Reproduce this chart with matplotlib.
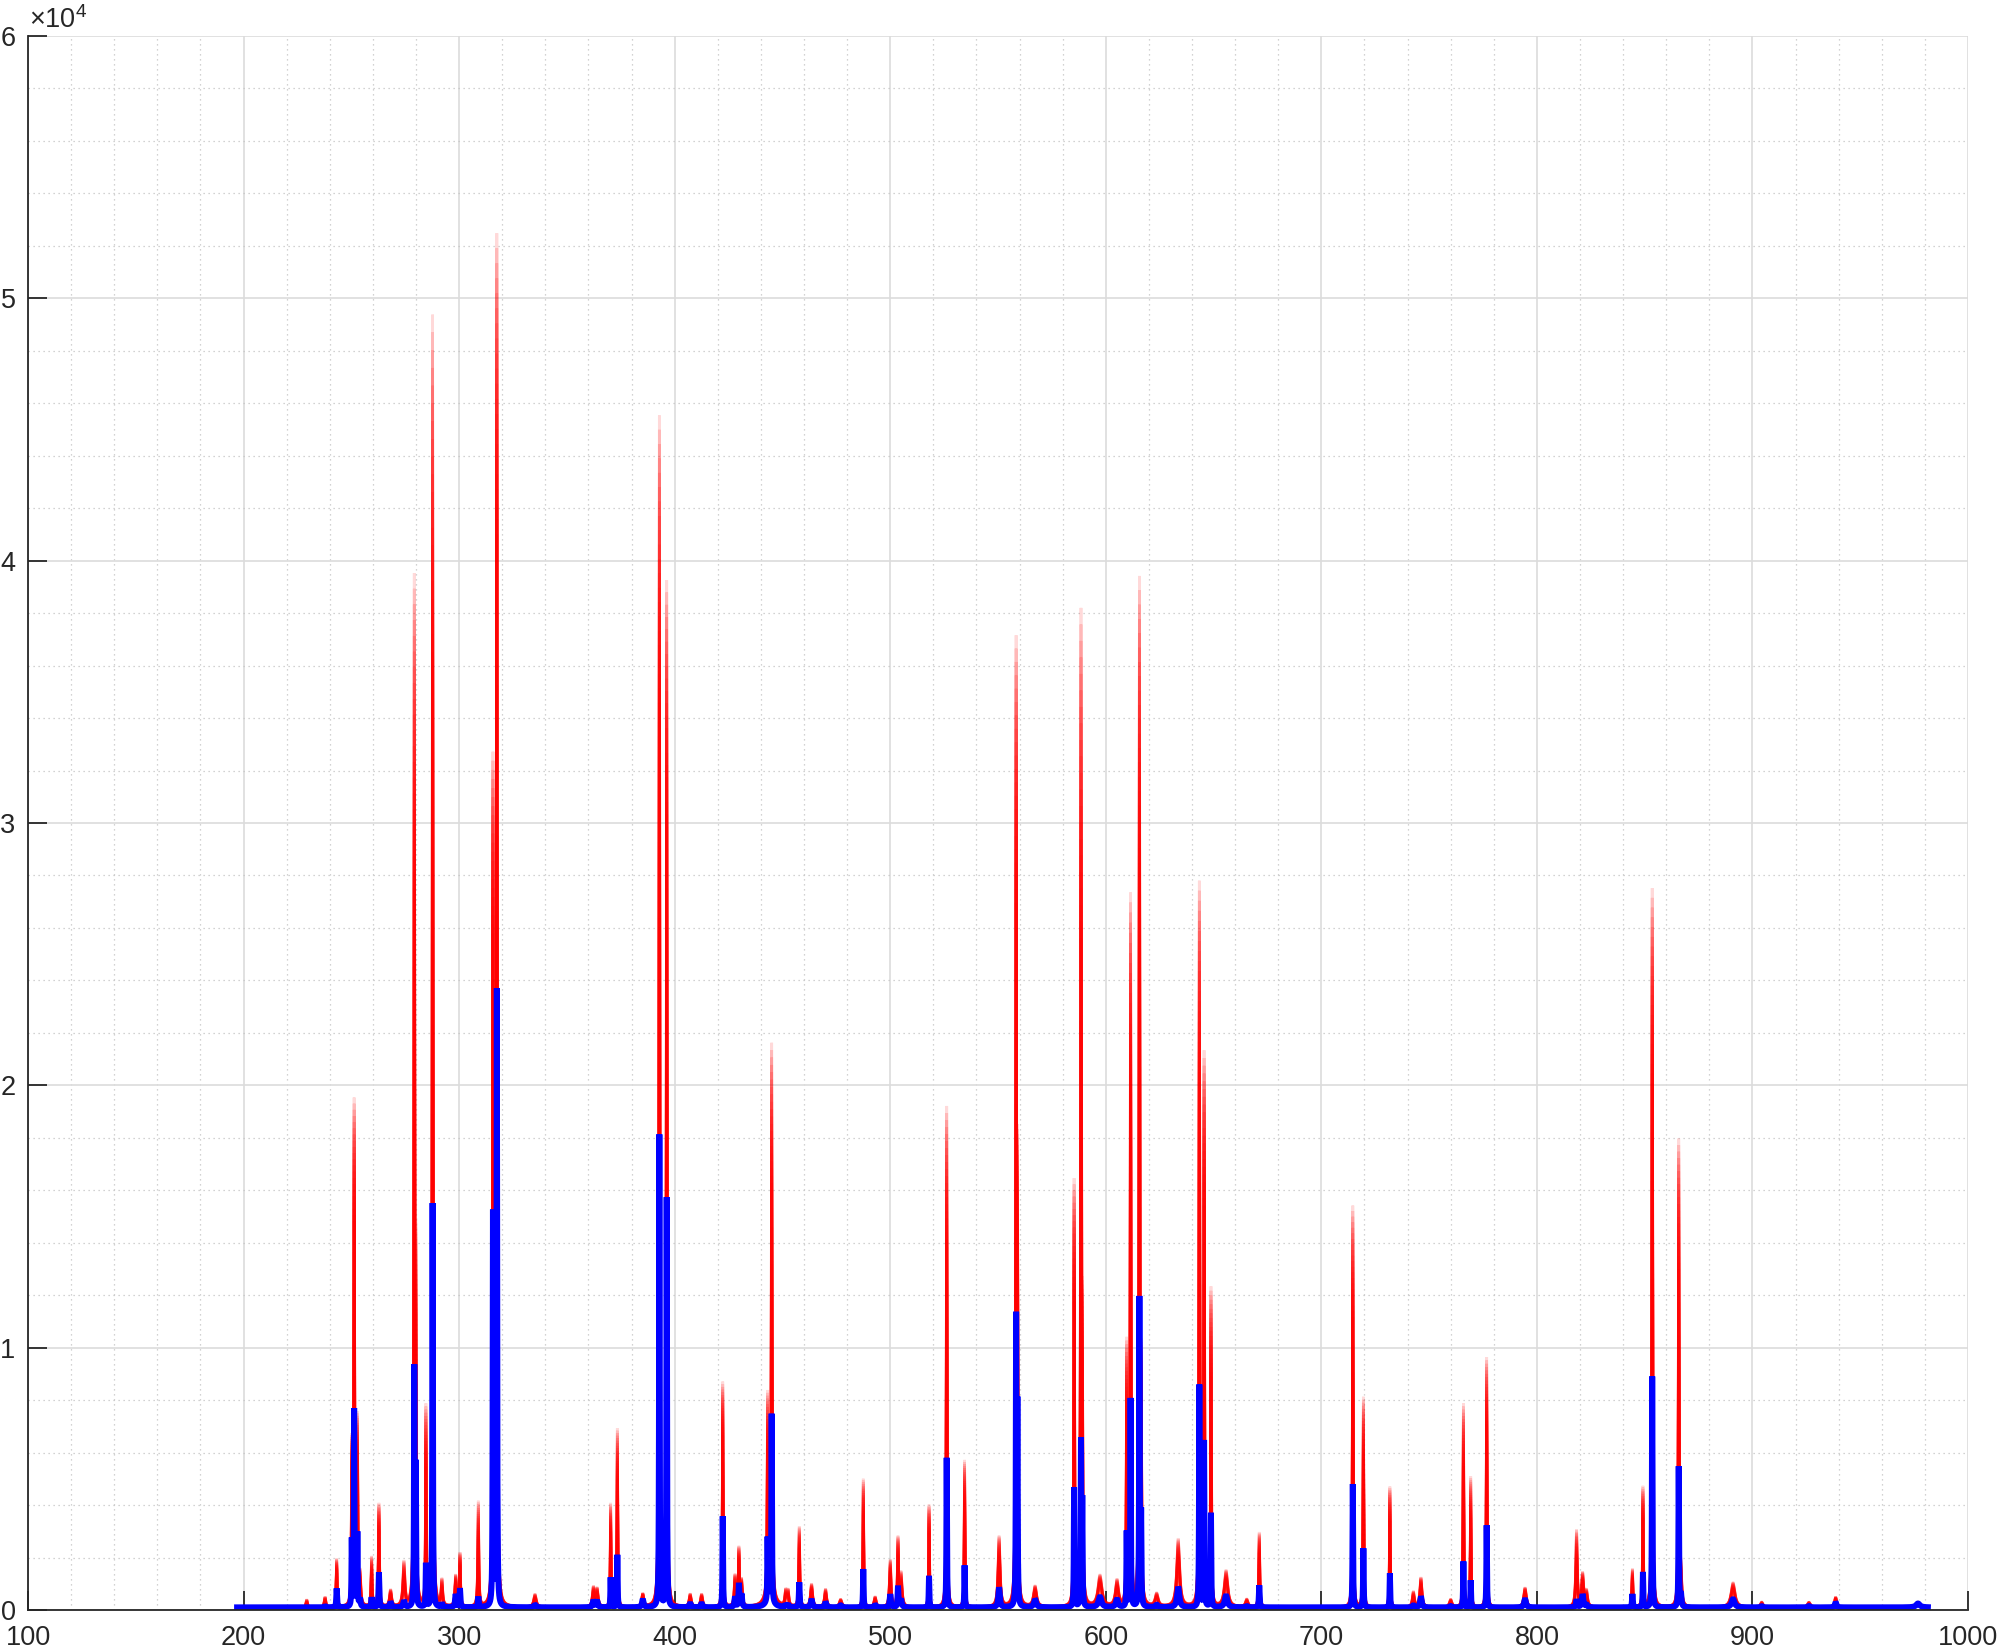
import numpy as np
import matplotlib
matplotlib.use('Agg')
import matplotlib.pyplot as plt
from matplotlib.ticker import MultipleLocator, FuncFormatter

plt.rcParams['font.family'] = ['Liberation Sans', 'DejaVu Sans']
plt.rcParams['mathtext.fontset'] = 'custom'
plt.rcParams['mathtext.rm'] = 'Liberation Sans'

# peak table: centre (nm), blue height, red max height, half width (nm)
peak_nm = [229.3, 237.8, 243.2, 250.2, 251.3, 252.8, 254.0, 259.4, 262.8, 268.2,
           274.4, 279.2, 279.9, 284.6, 287.7, 292.0, 298.4, 300.4, 308.9, 315.7,
           317.5, 335.2, 362.3, 364.0, 370.3, 373.4, 385.2, 392.9, 396.3, 407.2,
           412.5, 422.3, 428.0, 429.8, 431.0, 443.1, 445.0, 444.0, 451.5, 452.6,
           457.8, 463.5, 470.0, 477.0, 487.5, 493.0, 500.0, 503.6, 505.0, 518.0,
           526.2, 534.5, 550.5, 558.4, 559.0, 567.2, 585.3, 588.5, 589.1, 597.3,
           605.2, 609.7, 611.5, 615.6, 616.4, 623.6, 633.6, 643.4, 645.6, 648.8,
           655.8, 665.4, 671.2, 714.6, 719.5, 731.8, 742.7, 746.2, 760.0, 765.9,
           769.3, 776.7, 794.5, 818.4, 821.2, 823.0, 844.3, 849.2, 853.5, 865.8,
           866.8, 891.0, 904.3, 926.2, 938.6, 976.8]
blue_h = [0, 50, 720, 2520, 7520, 2800, 300, 380, 1330, 200,
          250, 9030, 5220, 1650, 15400, 150, 500, 720, 400, 15000,
          23500, 100, 250, 250, 1140, 2000, 300, 18000, 15600, 150,
          150, 3470, 400, 890, 500, 2360, 7090, 400, 100, 100,
          950, 300, 200, 80, 1460, 100, 500, 800, 300, 1200,
          5700, 1600, 760, 10830, 7400, 300, 4550, 6230, 3900, 400,
          300, 2860, 7940, 11740, 3400, 100, 780, 8460, 6330, 3580,
          450, 50, 840, 4700, 2250, 1300, 80, 420, 50, 1750,
          1030, 3130, 320, 300, 500, 100, 510, 1340, 8800, 5340,
          500, 320, 50, 50, 200, 150]
red_h = [300, 400, 1840, 6000, 19100, 7000, 1200, 1900, 3940, 650,
         1700, 38500, 12000, 7500, 49200, 1000, 1200, 2030, 4000, 32000,
         52000, 500, 760, 700, 3940, 6800, 500, 45300, 39000, 500,
         500, 8580, 1200, 2170, 1000, 7400, 20800, 800, 600, 600,
         3050, 890, 700, 300, 4890, 400, 1800, 2550, 1300, 3900,
         19100, 5600, 2700, 35600, 15000, 800, 16180, 37150, 9000, 1200,
         1000, 9900, 27000, 38770, 8000, 500, 2600, 27490, 20950, 12090,
         1400, 300, 2860, 15300, 8000, 4600, 600, 1140, 300, 7750,
         4960, 9530, 760, 2930, 1270, 600, 1460, 4570, 27400, 17700,
         1200, 950, 200, 200, 400, 200]
width_nm = [0.3, 0.3, 0.2, 0.15, 0.15, 0.15, 0.3, 0.2, 0.2, 0.4,
            0.4, 0.15, 0.15, 0.15, 0.15, 0.3, 0.3, 0.2, 0.2, 0.15,
            0.15, 0.5, 0.4, 0.4, 0.15, 0.15, 0.4, 0.15, 0.15, 0.4,
            0.4, 0.15, 0.3, 0.2, 0.3, 0.15, 0.15, 1.5, 0.3, 0.3,
            0.2, 0.4, 0.4, 0.5, 0.15, 0.4, 0.3, 0.2, 0.4, 0.15,
            0.15, 0.15, 0.4, 0.15, 0.15, 0.6, 0.15, 0.15, 0.15, 0.8,
            0.6, 0.15, 0.15, 0.15, 0.15, 0.6, 0.6, 0.15, 0.15, 0.15,
            0.7, 0.5, 0.2, 0.15, 0.15, 0.15, 0.4, 0.4, 0.5, 0.15,
            0.15, 0.15, 0.5, 0.3, 0.4, 0.4, 0.2, 0.15, 0.15, 0.15,
            0.3, 0.8, 0.5, 0.6, 0.4, 1.0]

wl_start, wl_end, wl_step = 197.0, 981.5, 0.1
baseline = 100.0
# fraction of the way from the blue to the red maximum, one per red spectrum
red_levels = [0.1, 0.2, 0.3, 0.4, 0.5, 0.6, 0.62, 0.64, 0.66, 0.68,
              0.7, 0.72, 0.74, 0.76, 0.78, 0.8, 0.82, 0.84, 0.86, 0.88,
              0.9, 0.92, 0.94, 0.96, 0.98, 1.0]

wl = np.arange(wl_start, wl_end, wl_step)
c = np.array(peak_nm)[:, None]
g = np.array(width_nm)[:, None]
hb = np.array(blue_h, dtype=float)
hr = np.array(red_h, dtype=float)


def spectrum(heights, widen=1.0):
    shape = 1.0 / (1.0 + ((wl[None, :] - c) / (g * widen)) ** 2)
    return baseline + (heights[:, None] * shape).sum(axis=0)


fig = plt.figure(figsize=(19.97, 16.51), dpi=100)
ax = fig.add_axes([28 / 1997, 41 / 1651, 1940 / 1997, 1574 / 1651])

for lev in red_levels:
    ax.plot(wl, spectrum(hb + (hr - hb) * lev, 1.3), color=(1, 0, 0),
            lw=2.0, alpha=0.15, solid_joinstyle='bevel')
ax.plot(wl, spectrum(hb), color=(0, 0, 1), lw=4.3, solid_joinstyle='bevel')

ax.set_xlim(100, 1000)
ax.set_ylim(0, 60000)
ax.xaxis.set_major_locator(MultipleLocator(100))
ax.xaxis.set_minor_locator(MultipleLocator(20))
ax.yaxis.set_major_locator(MultipleLocator(10000))
ax.yaxis.set_minor_locator(MultipleLocator(2000))
ax.yaxis.set_major_formatter(FuncFormatter(lambda v, p: '%g' % (v / 1e4)))

ax.set_axisbelow(True)
ax.grid(which='major', color='#dcdcdc', lw=1.2, ls='-')
ax.grid(which='minor', color='#c4c4c4', lw=0.9, ls=(0, (1, 3)))

for s in ['top', 'right']:
    ax.spines[s].set_visible(False)
for s in ['left', 'bottom']:
    ax.spines[s].set_color('#262626')
    ax.spines[s].set_linewidth(1.3)

ax.tick_params(which='major', direction='in', length=13.5, width=1.3, color='#262626',
               labelsize=19.5, labelcolor='#262626')
ax.tick_params(axis='x', which='major', pad=11)
ax.tick_params(axis='y', which='major', pad=9)
ax.tick_params(which='minor', length=0)

fig.text(29 / 1997, 1 - 28 / 1651, r'$\times10^{4}$', fontsize=19.5, color='#262626',
         ha='left', va='baseline')

fig.savefig('out.png', dpi=100)
